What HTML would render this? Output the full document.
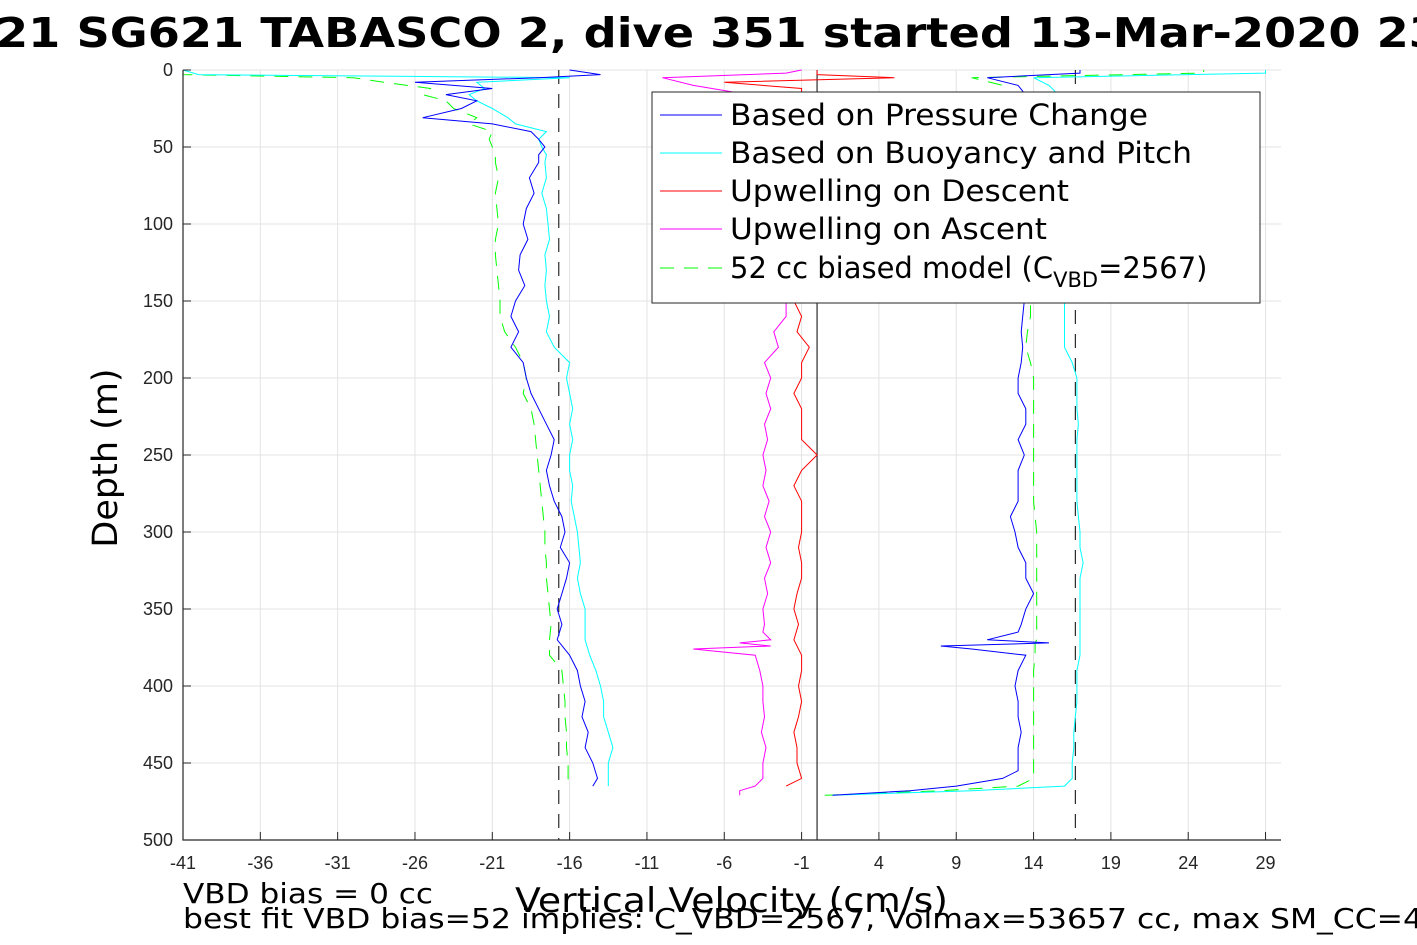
<!DOCTYPE html>
<html><head><meta charset="utf-8"><style>
body{margin:0;background:#fff;}
svg{display:block;font-family:"Liberation Sans","DejaVu Sans",sans-serif;}
</style></head><body>
<svg id="chart" width="1417" height="945" viewBox="0 0 1417 945">
<text x="-4" y="47" font-size="41" font-weight="bold" font-family="DejaVu Sans, sans-serif" textLength="1445" lengthAdjust="spacingAndGlyphs">21 SG621 TABASCO 2, dive 351 started 13-Mar-2020 23</text>
<g id="grid"></g>
<g id="plot"></g>
<g id="axes"></g>
<g font-family="DejaVu Sans, sans-serif" font-size="29">
<rect x="652" y="92" width="608" height="211" fill="#fff" stroke="#262626" stroke-width="1"/>
<line x1="660" y1="115" x2="722" y2="115" stroke="#0000ff"/><text x="730" y="125" textLength="418" lengthAdjust="spacingAndGlyphs">Based on Pressure Change</text>
<line x1="660" y1="153" x2="722" y2="153" stroke="#00ffff"/><text x="730" y="163" textLength="462" lengthAdjust="spacingAndGlyphs">Based on Buoyancy and Pitch</text>
<line x1="660" y1="191" x2="722" y2="191" stroke="#ff0000"/><text x="730" y="201" textLength="339" lengthAdjust="spacingAndGlyphs">Upwelling on Descent</text>
<line x1="660" y1="229" x2="722" y2="229" stroke="#ff00ff"/><text x="730" y="239" textLength="317" lengthAdjust="spacingAndGlyphs">Upwelling on Ascent</text>
<line x1="660" y1="268" x2="722" y2="268" stroke="#00ff00" stroke-dasharray="14,10"/><text x="730" y="278">52 cc biased model (C<tspan font-size="21" dy="9">VBD</tspan><tspan dy="-9">=2567)</tspan></text>
</g>
<text x="515" y="912" font-size="34" font-family="DejaVu Sans, sans-serif" textLength="433" lengthAdjust="spacingAndGlyphs">Vertical Velocity (cm/s)</text>
<text transform="translate(117,458) rotate(-90)" font-size="35" text-anchor="middle" font-family="DejaVu Sans, sans-serif">Depth (m)</text>
<text x="183" y="903" font-size="28" font-family="DejaVu Sans, sans-serif" textLength="250" lengthAdjust="spacingAndGlyphs">VBD bias = 0 cc</text>
<text x="183" y="928" font-size="28" font-family="DejaVu Sans, sans-serif" textLength="1240" lengthAdjust="spacingAndGlyphs">best fit VBD bias=52 implies: C_VBD=2567, Volmax=53657 cc, max SM_CC=4</text>
</svg>
<script>
const xTicks=[-41,-36,-31,-26,-21,-16,-11,-6,-1,4,9,14,19,24,29];
const yTicks=[0,50,100,150,200,250,300,350,400,450,500];
const refLines=[-16.7,0,16.7];
// descent (depth increasing)
const descDepth=[0,3,5,8,12,16,20,25,31,35,40,45,50,55,60,70,80,90,100,110,120,130,140,150,160,170,180,190,200,210,220,230,240,250,260,270,280,290,300,310,320,330,340,350,360,370,380,390,400,410,420,430,440,450,460,465];
const descPressure=[-16,-14,-18,-26,-21,-24,-22,-23,-25.5,-21,-18.5,-18,-17.6,-18,-18,-18.6,-18.3,-18.8,-19,-18.7,-19.2,-19.3,-18.9,-19.5,-19.8,-19.3,-19.8,-19,-18.8,-18.5,-18,-17.5,-17,-17.2,-17.5,-17.3,-17,-16.5,-16.3,-16.6,-16,-16.2,-16.5,-16.8,-16.5,-16.8,-16,-15.5,-15.3,-15,-15.2,-14.8,-15,-14.5,-14.2,-14.5];
const descBuoy=[-41,-40,-16,-22,-21.5,-22.5,-22,-21,-20,-19.5,-17.5,-18,-17.8,-17.5,-17.6,-17.5,-17.8,-17.5,-17.4,-17.3,-17.6,-17.5,-17.6,-17.5,-17.3,-17.5,-17,-16,-16.2,-16,-15.8,-16,-15.8,-16,-16,-15.8,-15.9,-15.7,-15.5,-15.4,-15.3,-15.5,-15.3,-15,-15,-15,-14.7,-14.3,-14,-13.8,-13.8,-13.5,-13.2,-13.5,-13.5,-13.5];
const descModel=[-41,-41,-30,-28,-25,-25.5,-24,-23.5,-22,-22.5,-21,-21.2,-21,-20.8,-20.8,-20.6,-20.8,-20.7,-20.6,-20.8,-20.8,-20.7,-20.6,-20.5,-20.5,-20.2,-19.5,-19,-18.8,-19,-18.5,-18.3,-18.2,-18.1,-18,-17.9,-17.8,-17.7,-17.6,-17.6,-17.5,-17.5,-17.4,-17.3,-17.2,-17.3,-17.3,-16.5,-16.4,-16.3,-16.3,-16.2,-16.2,-16.1,-16.1,-16];
const descUpwell=[0,0,5,-6,-1,-1,-1,-1,-1,-1,-1,-1,-1,-1,-1,-1,-1,-1,-1,-1,-1,-1,-1,-1.5,-1,-1.3,-0.5,-1,-1,-1.5,-1,-1,-1,0,-1,-1.5,-1,-1,-1,-1.2,-1,-1,-1.3,-1.5,-1.2,-1.5,-1,-1,-1.2,-1,-1.2,-1.5,-1.3,-1.3,-1,-2];
// bottom turnaround + ascent (depth decreasing)
const ascDepth=[471,468,465,460,455,450,440,430,420,410,400,390,380,376,374,372,370,365,360,350,340,330,320,310,300,290,280,270,260,250,240,230,220,210,200,190,180,170,160,150,120,80,40,20,10,5,2,0];
const ascPressure=[1,6,9,12,13,13,13,13.2,13,13,12.8,13,13.5,10,8,15,11,13,13.2,13.5,14,13.5,13.5,13,12.8,12.5,13,13,13,13.4,13,13.5,13.5,13,13,13.2,13.3,13.2,13.3,13.4,13.5,13.6,13.8,13.8,13,11,17,17];
const ascBuoy=[1,10,16,16.5,16.5,16.5,16.6,16.6,16.7,16.8,16.8,16.8,17,17,17,17,17,17,17,17,17,17,17.2,17,17,16.9,16.8,16.8,16.8,16.8,16.8,16.9,16.8,16.8,16.8,16.5,16,16,16,16,16,16,16,16,15,14,29,29];
const ascModel=[0.5,8,13,14,14,14,14,14,14,14,14,14,14.1,14.1,14.1,14.1,14.2,14.2,14.2,14.2,14.2,14.2,14.2,14.2,14.2,14.1,14,14,14,14,14,14,14,14,14,13.8,13.5,13.6,13.8,13.8,13.8,13.5,13,12.8,12,10,25,25];
const ascUpwell=[-5,-5,-4,-3.5,-3.5,-3.5,-3.3,-3.6,-3.4,-3.5,-3.5,-3.7,-4,-8,-3,-5,-3,-3.5,-3.4,-3.5,-3.2,-3.4,-3,-3.3,-3,-3.4,-3.1,-3.5,-3.3,-3.5,-3.2,-3.4,-3,-3.3,-3,-3.4,-2.5,-2.8,-2,-2,-2,-2,-2,-2,-8,-10,-2,-1];

const X0=183,X1=1281,Y0=70,Y1=840,VMIN=-41,VMAX=30,DMAX=500;
const xs=v=>X0+(v-VMIN)/(VMAX-VMIN)*(X1-X0);
const ys=d=>Y0+d/DMAX*(Y1-Y0);
const NS="http://www.w3.org/2000/svg";
function mk(tag,attrs,parent){const e=document.createElementNS(NS,tag);for(const k in attrs)e.setAttribute(k,attrs[k]);parent.appendChild(e);return e;}
const grid=document.getElementById('grid'),plot=document.getElementById('plot'),axes=document.getElementById('axes');
xTicks.forEach(t=>{const l=mk('line',{x1:xs(t),x2:xs(t),y1:Y0,y2:Y1,stroke:'#e3e3e3','stroke-width':1},grid);


const tk=mk('line',{x1:xs(t),x2:xs(t),y1:Y1,y2:Y1-8,stroke:'#262626'},axes);


const tx=mk('text',{x:xs(t),y:Y1+29,'font-size':18,'text-anchor':'middle',fill:'#262626'},axes);tx.textContent=t;

});
yTicks.forEach(t=>{const l=mk('line',{x1:X0,x2:X1,y1:ys(t),y2:ys(t),stroke:'#e3e3e3','stroke-width':1},grid);


const tk=mk('line',{x1:X0,x2:X0+8,y1:ys(t),y2:ys(t),stroke:'#262626'},axes);


const tx=mk('text',{x:X0-10,y:ys(t)+6,'font-size':18,'text-anchor':'end',fill:'#262626'},axes);tx.textContent=t;

});
const ax=mk('path',{d:`M${X0},${Y0}V${Y1}H${X1}`,fill:'none',stroke:'#262626','stroke-width':1.2},axes);


refLines.forEach((v,i)=>{const l=mk('line',{x1:xs(v),x2:xs(v),y1:Y0,y2:Y1,stroke:'#000','stroke-width':1},plot);
if(i!==1)l.setAttribute('stroke-dasharray','14,10');

});
function series(depths,vals,color,name,dash){
 const d=depths.map((dd,i)=>(i?'L':'M')+xs(vals[i]).toFixed(1)+','+ys(dd).toFixed(1)).join('');
 const p=mk('path',{d:d,fill:'none',stroke:color,'stroke-width':1},plot);
 if(dash)p.setAttribute('stroke-dasharray','14,10');
 
 }
series(descDepth,descModel,'#00ff00','model-descent-line',true);
series(ascDepth,ascModel,'#00ff00','model-ascent-line',true);
series(descDepth,descBuoy,'#00ffff','buoyancy-descent-line');
series(ascDepth,ascBuoy,'#00ffff','buoyancy-ascent-line');
series(descDepth,descPressure,'#0000ff','pressure-descent-line');
series(ascDepth,ascPressure,'#0000ff','pressure-ascent-line');
series(descDepth,descUpwell,'#ff0000','upwelling-descent-line');
series(ascDepth,ascUpwell,'#ff00ff','upwelling-ascent-line');
</script>
</body></html>
